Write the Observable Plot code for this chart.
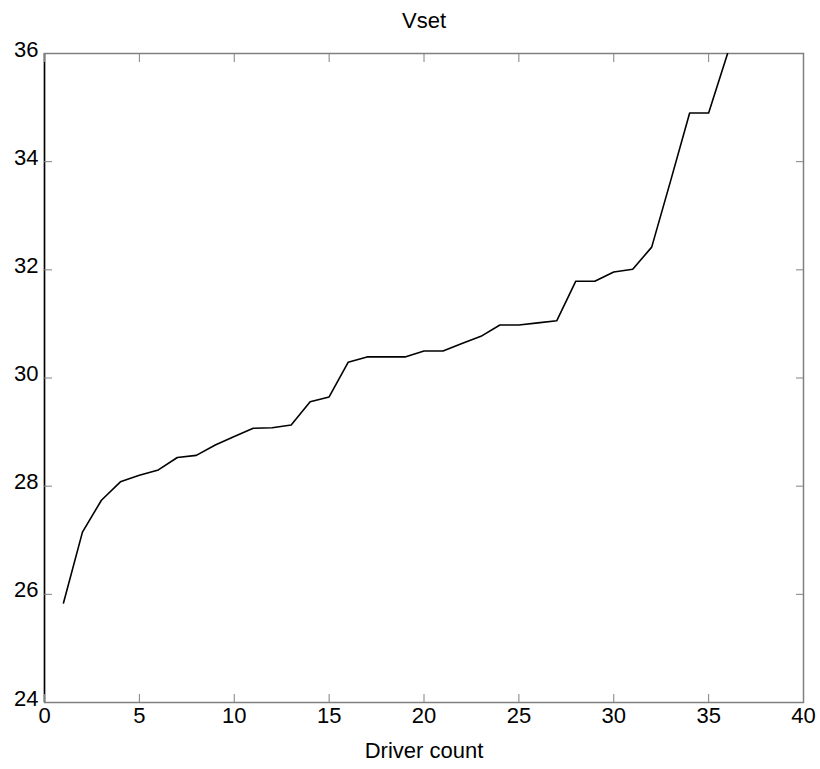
<!DOCTYPE html>
<html>
<head>
<meta charset="utf-8">
<script src="https://cdn.jsdelivr.net/npm/d3@7"></script>
<script src="https://cdn.jsdelivr.net/npm/@observablehq/plot@0.6"></script>
<style>
  html, body { margin: 0; padding: 0; background: #fff; }
</style>
</head>
<body>
<div id="chart"></div>
<script>
const titleText = "Vset";
const xLabel = "Driver count";
const driverCount = [1,2,3,4,5,6,7,8,9,10,11,12,13,14,15,16,17,18,19,20,21,22,23,24,25,26,27,28,29,30,31,32,33,34,35,36];
const vset = [25.84, 27.15, 27.74, 28.08, 28.20, 28.30, 28.53, 28.57, 28.76, 28.92,
              29.07, 29.08, 29.13, 29.56, 29.65, 30.29, 30.39, 30.39, 30.39, 30.50,
              30.50, 30.64, 30.77, 30.98, 30.98, 31.02, 31.06, 31.79, 31.79, 31.96,
              32.01, 32.42, 33.65, 34.90, 34.90, 36.00];
const xTicks = [0, 5, 10, 15, 20, 25, 30, 35, 40];
const yTicks = [24, 26, 28, 30, 32, 34, 36];

const data = driverCount.map((d, i) => ({x: d, y: vset[i]}));
const gray = "#808080";

const chart = Plot.plot({
  width: 820,
  height: 769,
  marginTop: 53,
  marginBottom: 67,
  marginLeft: 44,
  marginRight: 17,
  style: {fontFamily: "'Liberation Sans', Arial, sans-serif", fontSize: "22px", background: "#fff", color: "#000"},
  x: {domain: [0, 40]},
  y: {domain: [24, 36]},
  marks: [
    Plot.frame({stroke: gray, strokeWidth: 1.5}),
    Plot.ruleX([0], {stroke: "#000", strokeWidth: 1.5}),
    Plot.axisX({anchor: "bottom", ticks: xTicks, tickSize: -8, text: null, stroke: gray, label: null}),
    Plot.axisX({anchor: "top", ticks: xTicks, tickSize: -8, text: null, stroke: gray, label: null}),
    Plot.axisY({anchor: "left", ticks: yTicks, tickSize: -8, text: null, stroke: gray, label: null}),
    Plot.axisY({anchor: "right", ticks: yTicks, tickSize: -8, text: null, stroke: gray, label: null}),
    Plot.axisX({anchor: "bottom", ticks: xTicks, tickSize: 0, tickPadding: 5, fill: "#000", label: null, tickFormat: d => String(d)}),
    Plot.axisY({anchor: "left", ticks: yTicks, tickSize: 0, tickPadding: 6, dy: -4, fill: "#000", label: null, tickFormat: d => String(d)}),
    Plot.line(data, {x: "x", y: "y", stroke: "#000", strokeWidth: 1.6, clip: true}),
    Plot.text([titleText], {frameAnchor: "top", dy: -33, lineAnchor: "middle", fill: "#000"}),
    Plot.text([xLabel], {frameAnchor: "bottom", dy: 48, lineAnchor: "middle", fill: "#000"})
  ]
});
document.getElementById("chart").appendChild(chart);
</script>
</body>
</html>
